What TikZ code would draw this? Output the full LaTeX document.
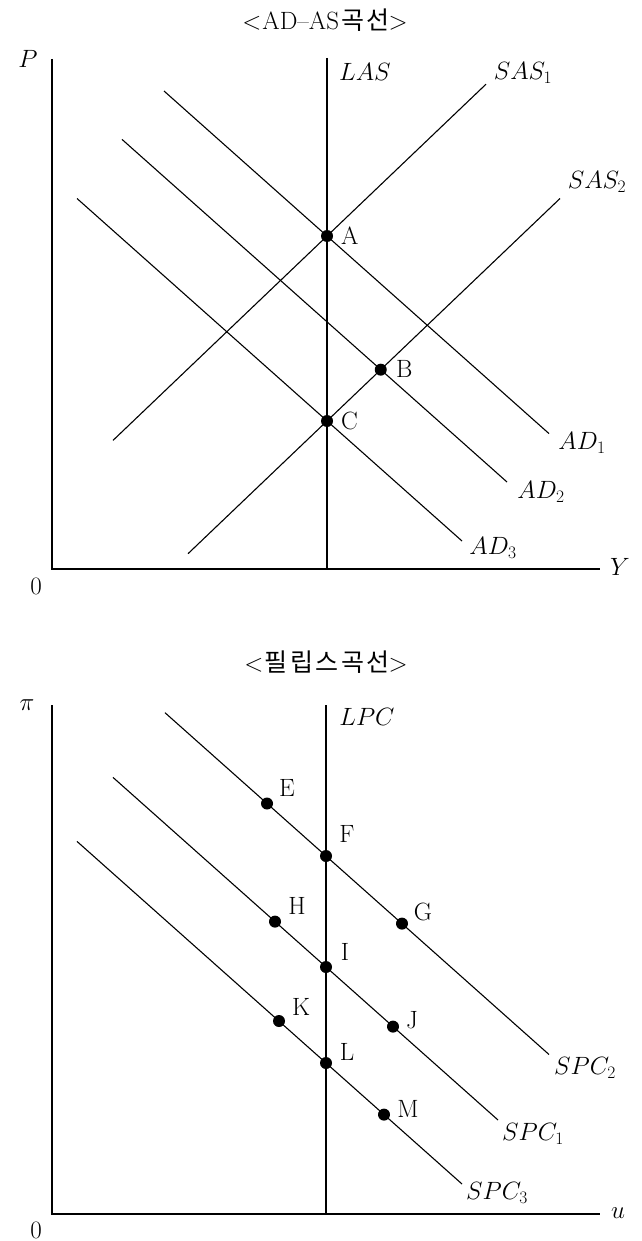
\RequirePackage{fix-cm}
\documentclass[tikz,border=0pt]{standalone}
\usepackage{fontspec}
\newfontfamily\kr[LetterSpace=10]{Noto Sans CJK KR}
\tikzset{
  ln/.style={line width=1.1pt},
  ax/.style={line width=1.3pt},
  dot/.style={circle,fill=black,inner sep=0pt,minimum size=12pt},
  lbl/.style={inner sep=0pt,font=\fontsize{25}{30}\selectfont},
  ttl/.style={inner sep=0pt,font=\fontsize{25}{30}\selectfont},
}
\begin{document}
\begin{tikzpicture}[x=1pt,y=-1pt]
\useasboundingbox (0,0) rectangle (641,1241);
% ---------- AD-AS ----------
\node[ttl] (t1) at (325,20) {$<$\hspace{1pt}AD--AS\hspace{2pt}{\kr 곡선}\hspace{-1pt}$>$};
\coordinate (o1) at (52,569);
\coordinate (ytop1) at (52,59);
\coordinate (xend1) at (600,569);
\coordinate (las1) at (327,58);
\coordinate (las0) at (327,569);
\draw[ax] (ytop1) -- (o1) -- (xend1);
\draw[ax] (las1) -- (las0);
\coordinate (ad1s) at (164,91);   \coordinate (ad1e) at (549,433.6);
\coordinate (ad2s) at (122,139.4); \coordinate (ad2e) at (507,482);
\coordinate (ad3s) at (77,198.5); \coordinate (ad3e) at (462,541);
\coordinate (sas1s) at (113,440.4); \coordinate (sas1e) at (486,84.2);
\coordinate (sas2s) at (188,553.7); \coordinate (sas2e) at (560,198.5);
\draw[ln] (ad1s) -- (ad1e);
\draw[ln] (ad2s) -- (ad2e);
\draw[ln] (ad3s) -- (ad3e);
\draw[ln] (sas1s) -- (sas1e);
\draw[ln] (sas2s) -- (sas2e);
\node[dot] (A) at (327,236) {};
\node[dot] (B) at (intersection of ad2s--ad2e and sas2s--sas2e) {};
\node[dot] (C) at (327,421) {};
\node[lbl,anchor=west] (lA) at (341,236) {A};
\node[lbl,anchor=west] (lB) at (396,369) {B};
\node[lbl,anchor=west] (lC) at (341,421) {C};
\node[lbl] (lP) at (28,59) {$P$};
\node[lbl] (l01) at (36,586) {0};
\node[lbl] (lY) at (620,567) {$Y$};
\node[lbl] (lLAS) at (365,72) {$LAS$};
\node[lbl] (lSAS1) at (523,73) {$SAS_1$};
\node[lbl] (lSAS2) at (597,182) {$SAS_2$};
\node[lbl] (lAD1) at (582,443) {$AD_1$};
\node[lbl] (lAD2) at (541,492) {$AD_2$};
\node[lbl] (lAD3) at (493,548) {$AD_3$};
% ---------- Phillips ----------
\node[ttl] (t2) at (326,662) {$<$\hspace{1pt}{\kr 필립스곡선}\hspace{-1pt}$>$};
\coordinate (o2) at (52,1214);
\coordinate (ytop2) at (52,705);
\coordinate (xend2) at (600,1214);
\coordinate (lpc1) at (326,705);
\coordinate (lpc0) at (326,1214);
\draw[ax] (ytop2) -- (o2) -- (xend2);
\draw[ax] (lpc1) -- (lpc0);
\coordinate (s2s) at (165,712.7); \coordinate (s2e) at (549,1054.5);
\coordinate (s1s) at (113,777.4); \coordinate (s1e) at (498,1120);
\coordinate (s3s) at (77,841.4);  \coordinate (s3e) at (462,1184);
\draw[ln] (s2s) -- (s2e);
\draw[ln] (s1s) -- (s1e);
\draw[ln] (s3s) -- (s3e);
\node[dot] (E) at (267,803.5) {};
\node[dot] (F) at (326,856) {};
\node[dot] (G) at (402,923.6) {};
\node[dot] (H) at (275,921.6) {};
\node[dot] (I) at (326,967) {};
\node[dot] (J) at (393,1026.6) {};
\node[dot] (K) at (279,1021) {};
\node[dot] (L) at (326,1063) {};
\node[dot] (M) at (384,1114.6) {};
\node[lbl] (lE) at (287,788) {E};
\node[lbl] (lF) at (347,834) {F};
\node[lbl] (lG) at (423,912) {G};
\node[lbl] (lH) at (297,906) {H};
\node[lbl] (lI) at (345,952) {I};
\node[lbl] (lJ) at (412,1020) {J};
\node[lbl] (lK) at (301,1007) {K};
\node[lbl] (lL) at (347,1052) {L};
\node[lbl] (lM) at (408,1109) {M};
\node[lbl] (lpi) at (27,705) {$\pi$};
\node[lbl] (l02) at (36,1230) {0};
\node[lbl] (lu) at (618,1213) {$u$};
\node[lbl] (lLPC) at (367,717) {$LPC$};
\node[lbl] (lSPC2) at (585,1068) {$SPC_2$};
\node[lbl] (lSPC1) at (533,1134) {$SPC_1$};
\node[lbl] (lSPC3) at (497,1193) {$SPC_3$};
\end{tikzpicture}
\end{document}
